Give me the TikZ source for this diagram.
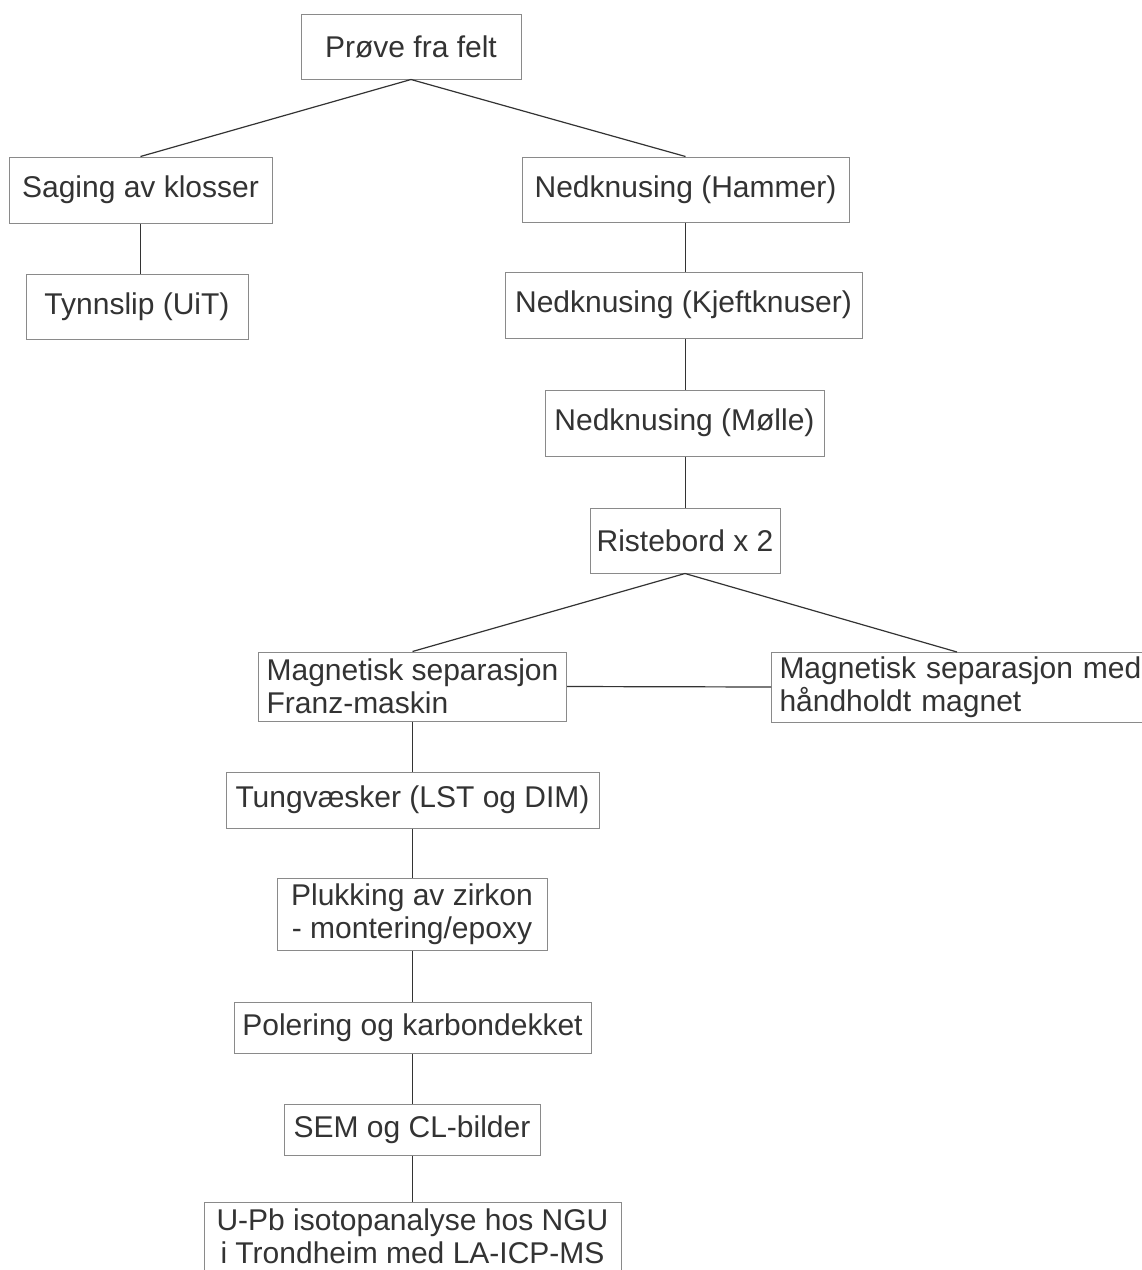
\documentclass[tikz,border=0pt]{standalone}
\usepackage{fontspec}
\setmainfont{Liberation Sans}
\definecolor{boxgray}{HTML}{8A8A8A}
\definecolor{inkgray}{HTML}{333333}
\begin{document}
\begin{tikzpicture}[x=1pt,y=-1pt,
    stepbox/.style={rectangle,draw=boxgray,line width=1pt,text=inkgray,inner sep=0pt,minimum height=65pt},
    link/.style={draw=inkgray,line width=1.2pt},
    every node/.append style={font=\fontsize{30}{33}\selectfont}]
        \useasboundingbox (0,0) rectangle (1142,1270);
        \fill[white] (0,0) rectangle (1142,1270);

        \draw (411,46.5) node (prove) [stepbox,minimum width=220pt] {Prøve fra felt};
        \draw (140.5,190) node (saging) [stepbox,minimum width=263pt,minimum height=66pt] {Saging av klosser};
        \draw (137,306.5) node (tynn) [stepbox,minimum width=222pt] {Tynnslip (UiT)};
        \draw (685.5,189.5) node (hammer) [stepbox,minimum width=327pt] {Nedknusing (Hammer)};
        \draw (683.5,305) node (kjeft) [stepbox,minimum width=357pt,minimum height=66pt] {Nedknusing (Kjeftknuser)};
        \draw (684.5,423) node (molle) [stepbox,minimum width=279pt,minimum height=66pt] {Nedknusing (Mølle)};
        \draw (685,540.5) node (riste) [stepbox,minimum width=190pt] {Ristebord x 2};
        \draw (258,686.5) node (franz) [stepbox,anchor=west,align=left,minimum width=308pt,minimum height=69pt,inner xsep=6pt] {Magnetisk separasjon\\Franz-maskin};
        \draw (771,687) node (magnet) [stepbox,anchor=west,align=left,minimum height=70pt,inner xsep=8pt,text width=364pt] {Magnetisk separasjon med\\håndholdt magnet};
        \draw (412.5,800) node (tung) [stepbox,minimum width=373pt,minimum height=56pt] {Tungvæsker (LST og DIM)};
        \draw (412,914) node (plukk) [stepbox,align=center,minimum width=270pt,minimum height=72pt] {Plukking av zirkon\\- montering/epoxy};
        \draw (412.5,1027.5) node (poler) [stepbox,minimum width=357pt,minimum height=51pt] {Polering og karbondekket};
        \draw (412,1129.5) node (sem) [stepbox,minimum width=256pt,minimum height=51pt] {SEM og CL-bilder};
        \draw (412.5,1202) node (upb) [stepbox,anchor=north,align=center,minimum width=417pt,minimum height=90pt,inner ysep=6pt] {U-Pb isotopanalyse hos NGU\\ i Trondheim med LA-ICP-MS\\[30pt]};

        \draw [link] (prove.south) to (saging.north);
        \draw [link] (prove.south) to (hammer.north);
        \draw [link] (saging.south) to (tynn.north -| saging.south);
        \draw [link] (hammer.south) to (kjeft.north -| hammer.south);
        \draw [link] (kjeft.south -| hammer.south) to (molle.north -| hammer.south);
        \draw [link] (molle.south -| hammer.south) to (riste.north -| hammer.south);
        \draw [link] (riste.south) to (franz.north);
        \draw [link] (riste.south) to (957,652);
        \draw [link] (franz.east) to (magnet.west);
        \draw [link] (franz.south) to (tung.north -| franz.south);
        \draw [link] (tung.south -| franz.south) to (plukk.north -| franz.south);
        \draw [link] (plukk.south -| franz.south) to (poler.north -| franz.south);
        \draw [link] (poler.south -| franz.south) to (sem.north -| franz.south);
        \draw [link] (sem.south -| franz.south) to (upb.north -| franz.south);
    \end{tikzpicture}
\end{document}
